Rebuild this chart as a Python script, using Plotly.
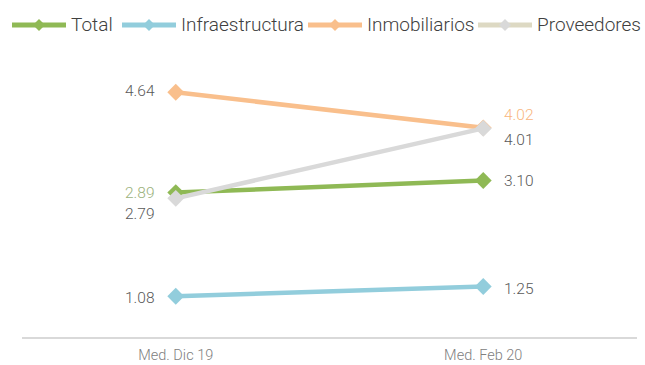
import plotly.graph_objects as go

# Periods compared
periods = ["Med. Dic 19", "Med. Feb 20"]

# Series values per period
total = [2.89, 3.10]
infraestructura = [1.08, 1.25]
inmobiliarios = [4.64, 4.02]
proveedores = [2.79, 4.01]

series_names = ["Total", "Infraestructura", "Inmobiliarios", "Proveedores"]
series_values = [total, infraestructura, inmobiliarios, proveedores]
series_colors = ["#8fb955", "#92cddc", "#f9bf8c", "#d9d9d9"]
legend_line_colors = ["#8fb955", "#92cddc", "#f9bf8c", "#ddd9c3"]

# Value-label styling per series: (colour, y-shift) at left and right points
label_style = {
    "Total": (("#9bb27c", 0), ("#595959", 0)),
    "Infraestructura": (("#595959", -2), ("#595959", -2)),
    "Inmobiliarios": (("#595959", 1), ("#f9b680", 13)),
    "Proveedores": (("#595959", -16), ("#595959", -12)),
}

FONT = "Roboto"
W, H = 645, 365
ML, MR, MT, MB = 22, 8, 60, 28
PW, PH = W - ML - MR, H - MT - MB


def px_to_paper_x(px):
    return (px - ML) / PW


def px_to_paper_y(py):
    return (H - MB - py) / PH


fig = go.Figure()
for name, vals, color in zip(series_names, series_values, series_colors):
    fig.add_trace(go.Scatter(
        x=periods, y=vals, name=name, mode="lines+markers",
        line=dict(color=color, width=4.5),
        marker=dict(symbol="diamond", size=13, color=color),
        cliponaxis=False, showlegend=False,
    ))

annotations = []
for name, vals in zip(series_names, series_values):
    (lc, ls), (rc, rs) = label_style[name]
    annotations.append(dict(
        x=periods[0], y=vals[0], xref="x", yref="y", text=f"{vals[0]:.2f}",
        showarrow=False, xanchor="right", xshift=-19, yshift=ls,
        font=dict(family=FONT, size=15.5, color=lc, weight=300),
    ))
    annotations.append(dict(
        x=periods[1], y=vals[1], xref="x", yref="y", text=f"{vals[1]:.2f}",
        showarrow=False, xanchor="left", xshift=19, yshift=rs,
        font=dict(family=FONT, size=15.5, color=rc, weight=300),
    ))

# Legend row: line + diamond key followed by the series name
legend_x = [12, 122, 308, 478]
legend_y = 25
shapes = []
for name, lx, lcol, mcol in zip(series_names, legend_x, legend_line_colors, series_colors):
    ax = px_to_paper_x(lx)
    ay = px_to_paper_y(legend_y)
    shapes.append(dict(
        type="line", xref="paper", yref="paper", xsizemode="pixel", ysizemode="pixel",
        xanchor=ax, yanchor=ay, x0=0, x1=54, y0=0, y1=0,
        line=dict(color=lcol, width=5),
    ))
    shapes.append(dict(
        type="path", xref="paper", yref="paper", xsizemode="pixel", ysizemode="pixel",
        xanchor=ax, yanchor=ay, path="M21,0 L27,6 L33,0 L27,-6 Z",
        fillcolor=mcol, line=dict(width=0),
    ))
    annotations.append(dict(
        x=px_to_paper_x(lx + 57), y=ay, xref="paper", yref="paper", text=name,
        showarrow=False, xanchor="left", yanchor="middle",
        font=dict(family=FONT, size=19, color="#404040", weight=300),
    ))

fig.update_layout(
    width=W, height=H,
    margin=dict(l=ML, r=MR, t=MT, b=MB, autoexpand=False),
    paper_bgcolor="white", plot_bgcolor="white",
    showlegend=False,
    annotations=annotations,
    shapes=shapes,
    xaxis=dict(
        type="category", range=[-0.5, 1.5], showgrid=False, zeroline=False,
        showline=True, linecolor="#d9d9d9", linewidth=1.5, automargin=False,
        ticks="", ticklabelstandoff=4,
        tickfont=dict(family=FONT, size=14.5, color="#808080", weight=300),
    ),
    yaxis=dict(
        range=[0.37, 5.204], visible=False, showgrid=False, zeroline=False,
    ),
)

fig.write_html("out.html")
